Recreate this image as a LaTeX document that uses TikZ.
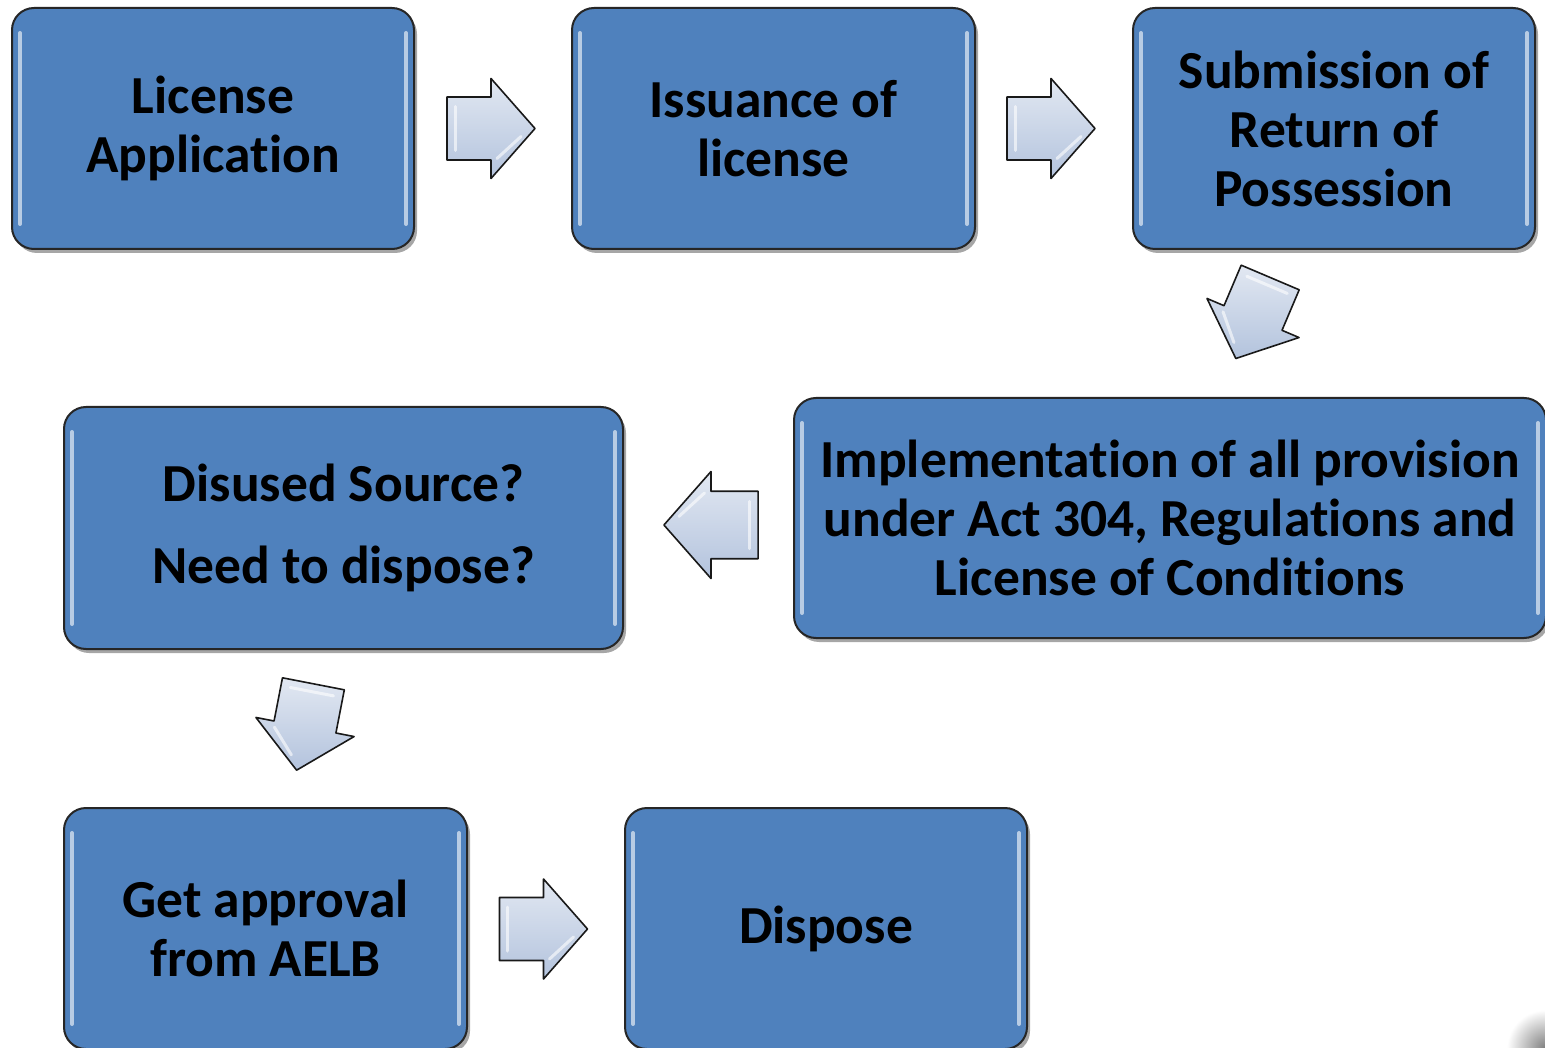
\documentclass[tikz,border=0pt]{standalone}
\usepackage{fontspec}
\setmainfont{Carlito}[Ligatures={NoCommon}]
\usetikzlibrary{shadows}
\definecolor{boxblue}{HTML}{4F81BD}
\definecolor{arrowlight}{HTML}{E2E8F2}
\definecolor{arrowdark}{HTML}{B3C3DD}
\tikzset{
  bx/.style={draw=black!85, line width=2pt, rounded corners=22pt, fill=boxblue,
    align=center, font=\bfseries\fontsize{53.5}{59}\selectfont, text=black,
    drop shadow={shadow xshift=3pt, shadow yshift=-4pt, opacity=0.35, fill=black},
    inner sep=0pt},
  hl/.style={draw=white, line width=4pt, opacity=0.6, line cap=round},
  blockarrow/.pic={
    \path[draw=black!90, line width=1.6pt, line join=round,
      top color=arrowlight, bottom color=arrowdark]
      (-44,-31.5) -- (0,-31.5) -- (0,-50) -- (44,0) -- (0,50) -- (0,31.5) -- (-44,31.5) -- cycle;
    \draw[white, line width=3pt, opacity=0.6, line cap=round]
      (-36,-22) -- (-36,22);
    \draw[white, line width=3pt, opacity=0.6, line cap=round]
      (6,30) -- (30,8);
  }
}
\begin{document}
\begin{tikzpicture}[x=1pt,y=-1pt]
\fill[white] (0,0) rectangle (1545,1048);
\useasboundingbox (0,0) rectangle (1545,1048);

\node[bx, minimum width=402pt, minimum height=241pt] (b1) at (213,128.5) {License\\Application};
\node[bx, minimum width=403pt, minimum height=241pt] (b2) at (773.5,128.5) {Issuance of\\license};
\node[bx, minimum width=402pt, minimum height=241pt] (b3) at (1334,128.5) {Submission of\\Return of\\Possession};
\node[bx, minimum width=752pt, minimum height=240pt] (b4) at (1170,518) {Implementation of all provision\\under Act 304, Regulations and\\License of Conditions};
\node[bx, minimum width=559pt, minimum height=242pt] (b5) at (343.5,528) {Disused Source?\\[23pt]Need to dispose?};
\node[bx, minimum width=403pt, minimum height=241pt] (b6) at (265.5,928.5) {Get approval\\from AELB};
\node[bx, minimum width=402pt, minimum height=241pt] (b7) at (826,928.5) {Dispose};

\foreach \b in {b1,b2,b3,b4,b5,b6,b7}{
  \draw[hl] ([xshift=9pt,yshift=-26pt]\b.north west) -- ([xshift=9pt,yshift=26pt]\b.south west);
  \draw[hl] ([xshift=-9pt,yshift=-26pt]\b.north east) -- ([xshift=-9pt,yshift=26pt]\b.south east);
}

\pic (a1) at (491,128.5) {blockarrow};
\pic (a2) at (1051,128.5) {blockarrow};
\pic[rotate=-113] (a3) at (1253,318) {blockarrow};
\pic[rotate=180, scale=1.07] (a4) at (711,525) {blockarrow};
\pic[rotate=-101] (a5) at (305,727) {blockarrow};
\pic (a6) at (543.5,929) {blockarrow};

\shade[inner color=black!50, outer color=white] (1545,1048) circle[radius=38pt];
\end{tikzpicture}
\end{document}
